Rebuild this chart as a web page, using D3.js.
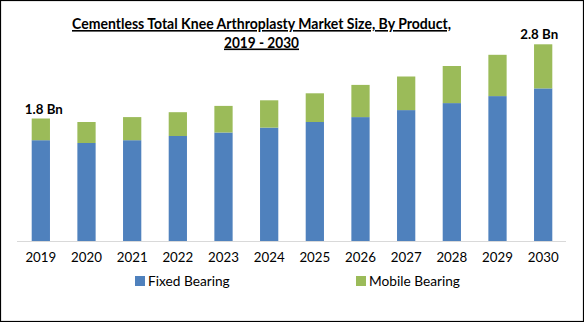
<!DOCTYPE html>
<html><head><meta charset="utf-8">
<script src="https://cdn.jsdelivr.net/npm/d3@7"></script>
<style>body{margin:0;background:#fff}svg{display:block}</style>
</head><body>
<script>
const years = ["2019","2020","2021","2022","2023","2024","2025","2026","2027","2028","2029","2030"];
const fixedBearing = [1.44,1.40,1.44,1.50,1.55,1.62,1.70,1.77,1.87,1.97,2.07,2.18];
const mobileBearing = [0.31,0.30,0.33,0.34,0.38,0.39,0.41,0.46,0.48,0.53,0.59,0.63];
const seriesNames = ["Fixed Bearing","Mobile Bearing"];
const seriesColors = ["#4f81bd","#9bbb59"];
const annotations = [{year:"2019", text:"1.8 Bn"},{year:"2030", text:"2.8 Bn"}];
const titleLines = ["Cementless Total Knee Arthroplasty Market Size, By Product,","2019 - 2030"];

const W = 584, H = 322;
const svg = d3.select("body").append("svg").attr("width", W).attr("height", H);
svg.append("rect").attr("x",0.5).attr("y",0.5).attr("width",W-1).attr("height",H-1)
  .attr("fill","#fff").attr("stroke","#000").attr("stroke-width",1.2);

const x = d3.scaleBand().domain(years).range([18, 566]).paddingInner(0.6).paddingOuter(0.3);
const y = d3.scaleLinear().domain([0, 3]).range([241, 31]);

const rows = years.map((yr,i)=>({year:yr, "Fixed Bearing":fixedBearing[i], "Mobile Bearing":mobileBearing[i]}));
const stack = d3.stack().keys(seriesNames)(rows);

svg.append("g").selectAll("g").data(stack).join("g")
  .attr("fill",(d,i)=>seriesColors[i])
  .selectAll("rect").data(d=>d).join("rect")
  .attr("x",d=>x(d.data.year)).attr("width",x.bandwidth())
  .attr("y",d=>y(d[1])).attr("height",d=>y(d[0])-y(d[1]));

// axis
const ax = svg.append("g").attr("transform","translate(0,241)")
  .call(d3.axisBottom(x).tickSize(0).tickPadding(12));
ax.select(".domain").attr("stroke","#d9d9d9").attr("d","M17,0.5H566");
ax.selectAll("text").attr("font-family","Lato, 'Open Sans', sans-serif").attr("font-size",13.3).attr("fill","#000");

// annotations
const totals = years.map((yr,i)=>fixedBearing[i]+mobileBearing[i]);
svg.append("g").selectAll("text").data(annotations).join("text")
  .attr("x",d=>x(d.year)+x.bandwidth()/2 + (d.year==="2030"?-4:3))
  .attr("y",d=>y(totals[years.indexOf(d.year)])-5)
  .attr("text-anchor","middle").attr("font-family","Lato, sans-serif").attr("font-weight","bold")
  .attr("font-size",13.3).attr("fill","#000").text(d=>d.text);

// title
const tg = svg.append("g").attr("font-family","Lato, sans-serif").attr("font-weight","bold").attr("font-size",16).attr("fill","#000");
const tLines = [{t:titleLines[0], y:29, w:379},{t:titleLines[1], y:47.5, w:75}];
tLines.forEach(l=>{
  tg.append("text").attr("x",261.5).attr("y",l.y).attr("text-anchor","middle")
    .attr("text-decoration","underline").attr("textLength",l.w).attr("lengthAdjust","spacingAndGlyphs").text(l.t);
});

// legend
const lg = svg.append("g").attr("font-family","Lato, 'Open Sans', sans-serif").attr("font-size",13.7);
const legX = [135, 356];
seriesNames.forEach((n,i)=>{
  lg.append("rect").attr("x",legX[i]).attr("y",276).attr("width",10).attr("height",10).attr("fill",seriesColors[i]);
  lg.append("text").attr("x",legX[i]+13).attr("y",285.5).attr("fill","#000").text(n);
});
</script>
</body></html>
